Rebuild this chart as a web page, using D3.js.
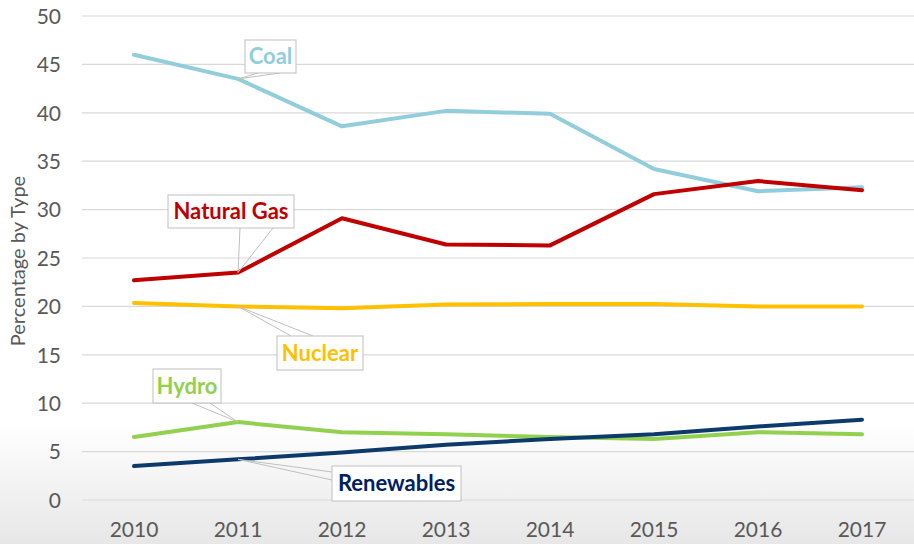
<!DOCTYPE html>
<html><head><meta charset="utf-8">
<script src="https://cdn.jsdelivr.net/npm/d3@7"></script>
<style>body{margin:0;background:#fff;}svg{display:block;}</style>
</head><body>
<script>
const years = ["2010","2011","2012","2013","2014","2015","2016","2017"];
const coal = [46.0, 43.5, 38.6, 40.2, 39.9, 34.2, 31.9, 32.3];
const naturalGas = [22.7, 23.5, 29.1, 26.4, 26.3, 31.6, 32.95, 32.0];
const nuclear = [20.35, 20.0, 19.8, 20.2, 20.25, 20.25, 20.0, 20.0];
const hydro = [6.5, 8.05, 7.0, 6.8, 6.5, 6.3, 7.0, 6.8];
const renewables = [3.5, 4.2, 4.9, 5.7, 6.3, 6.8, 7.6, 8.3];
const yTicks = [0,5,10,15,20,25,30,35,40,45,50];

const series = [
  {name:"Coal", values:coal, color:"#92CDDC", text:"#92CDDC"},
  {name:"Natural Gas", values:naturalGas, color:"#C00000", text:"#C00000"},
  {name:"Nuclear", values:nuclear, color:"#FFC000", text:"#FFC000"},
  {name:"Hydro", values:hydro, color:"#92D050", text:"#92D050"},
  {name:"Renewables", values:renewables, color:"#0B3A6B", text:"#002060"}
];

const W=914,H=544;
const svg=d3.select("body").append("svg").attr("width",W).attr("height",H);
const defs=svg.append("defs");
const g=defs.append("linearGradient").attr("id","bg").attr("x1",0).attr("x2",0).attr("y1",0).attr("y2",1);
g.append("stop").attr("offset","0%").attr("stop-color","#ffffff");
g.append("stop").attr("offset","78%").attr("stop-color","#ffffff");
g.append("stop").attr("offset","100%").attr("stop-color","#e7e7e7");
svg.append("rect").attr("width",W).attr("height",H).attr("fill","url(#bg)");

const x=d3.scaleBand().domain(years).range([82,914]);
const y=d3.scaleLinear().domain([0,50]).range([500,16]);
const font="Lato, 'Open Sans', sans-serif";

// gridlines
svg.append("g").selectAll("line").data(yTicks).join("line")
  .attr("x1",82).attr("x2",914).attr("y1",d=>y(d)).attr("y2",d=>y(d))
  .attr("stroke","#d9d9d9").attr("stroke-width",1.2);

// y axis labels
const yAxis=d3.axisLeft(y).tickValues(yTicks).tickSize(0).tickPadding(0);
const ya=svg.append("g").attr("transform","translate(61,0)").call(yAxis);
ya.select(".domain").remove();
ya.selectAll("text").attr("fill","#595959").style("font-family",font).style("font-size","21px").attr("dy","0.35em");

// x axis labels
const xAxis=d3.axisBottom(x).tickSize(0).tickPadding(0);
const xa=svg.append("g").attr("transform","translate(0,530)").call(xAxis);
xa.select(".domain").remove();
xa.selectAll("text").attr("fill","#595959").style("font-family",font).style("font-size","21px").attr("dy","0.35em");

// y title
svg.append("text").attr("transform","translate(25,261) rotate(-90)").attr("text-anchor","middle")
  .attr("fill","#595959").style("font-family",font).style("font-size","20px").text("Percentage by Type");

// lines
const line=d3.line().x((d,i)=>x(years[i])+x.bandwidth()/2).y(d=>y(d));
svg.append("g").selectAll("path").data(series).join("path")
  .attr("d",d=>line(d.values)).attr("fill","none").attr("stroke",d=>d.color)
  .attr("stroke-width",4).attr("stroke-linejoin","round").attr("stroke-linecap","round");

// callouts
const px=i=>x(years[i])+x.bandwidth()/2;
const callouts=[
  {s:0, box:[245,40,296,73], base:[[258,73],[280,73]]},
  {s:1, box:[168,195,294,228], base:[[240,228],[273,228]]},
  {s:2, box:[277,336,363,370], base:[[291,336],[313,336]]},
  {s:3, box:[153,369,221,403], base:[[192,403],[210,403]]},
  {s:4, box:[332,466,461,501], base:[[332,472],[332,480]]}
];
const cg=svg.append("g");
callouts.forEach(c=>{
  const s=series[c.s];
  const tx=px(1), ty=y(s.values[1]);
  cg.append("path").attr("d",`M${c.base[0][0]},${c.base[0][1]}L${tx},${ty}L${c.base[1][0]},${c.base[1][1]}`)
    .attr("fill","none").attr("stroke","#bfbfbf").attr("stroke-width",1);
  cg.append("rect").attr("x",c.box[0]).attr("y",c.box[1]).attr("width",c.box[2]-c.box[0]).attr("height",c.box[3]-c.box[1])
    .attr("fill","#fff").attr("stroke","#bfbfbf").attr("stroke-width",1);
  cg.append("text").attr("x",(c.box[0]+c.box[2])/2).attr("y",(c.box[1]+c.box[3])/2).attr("dy","0.36em")
    .attr("text-anchor","middle").attr("fill",s.text).style("font-family",font).style("font-weight","bold")
    .style("font-size","22px").text(s.name);
});
</script>
</body></html>
